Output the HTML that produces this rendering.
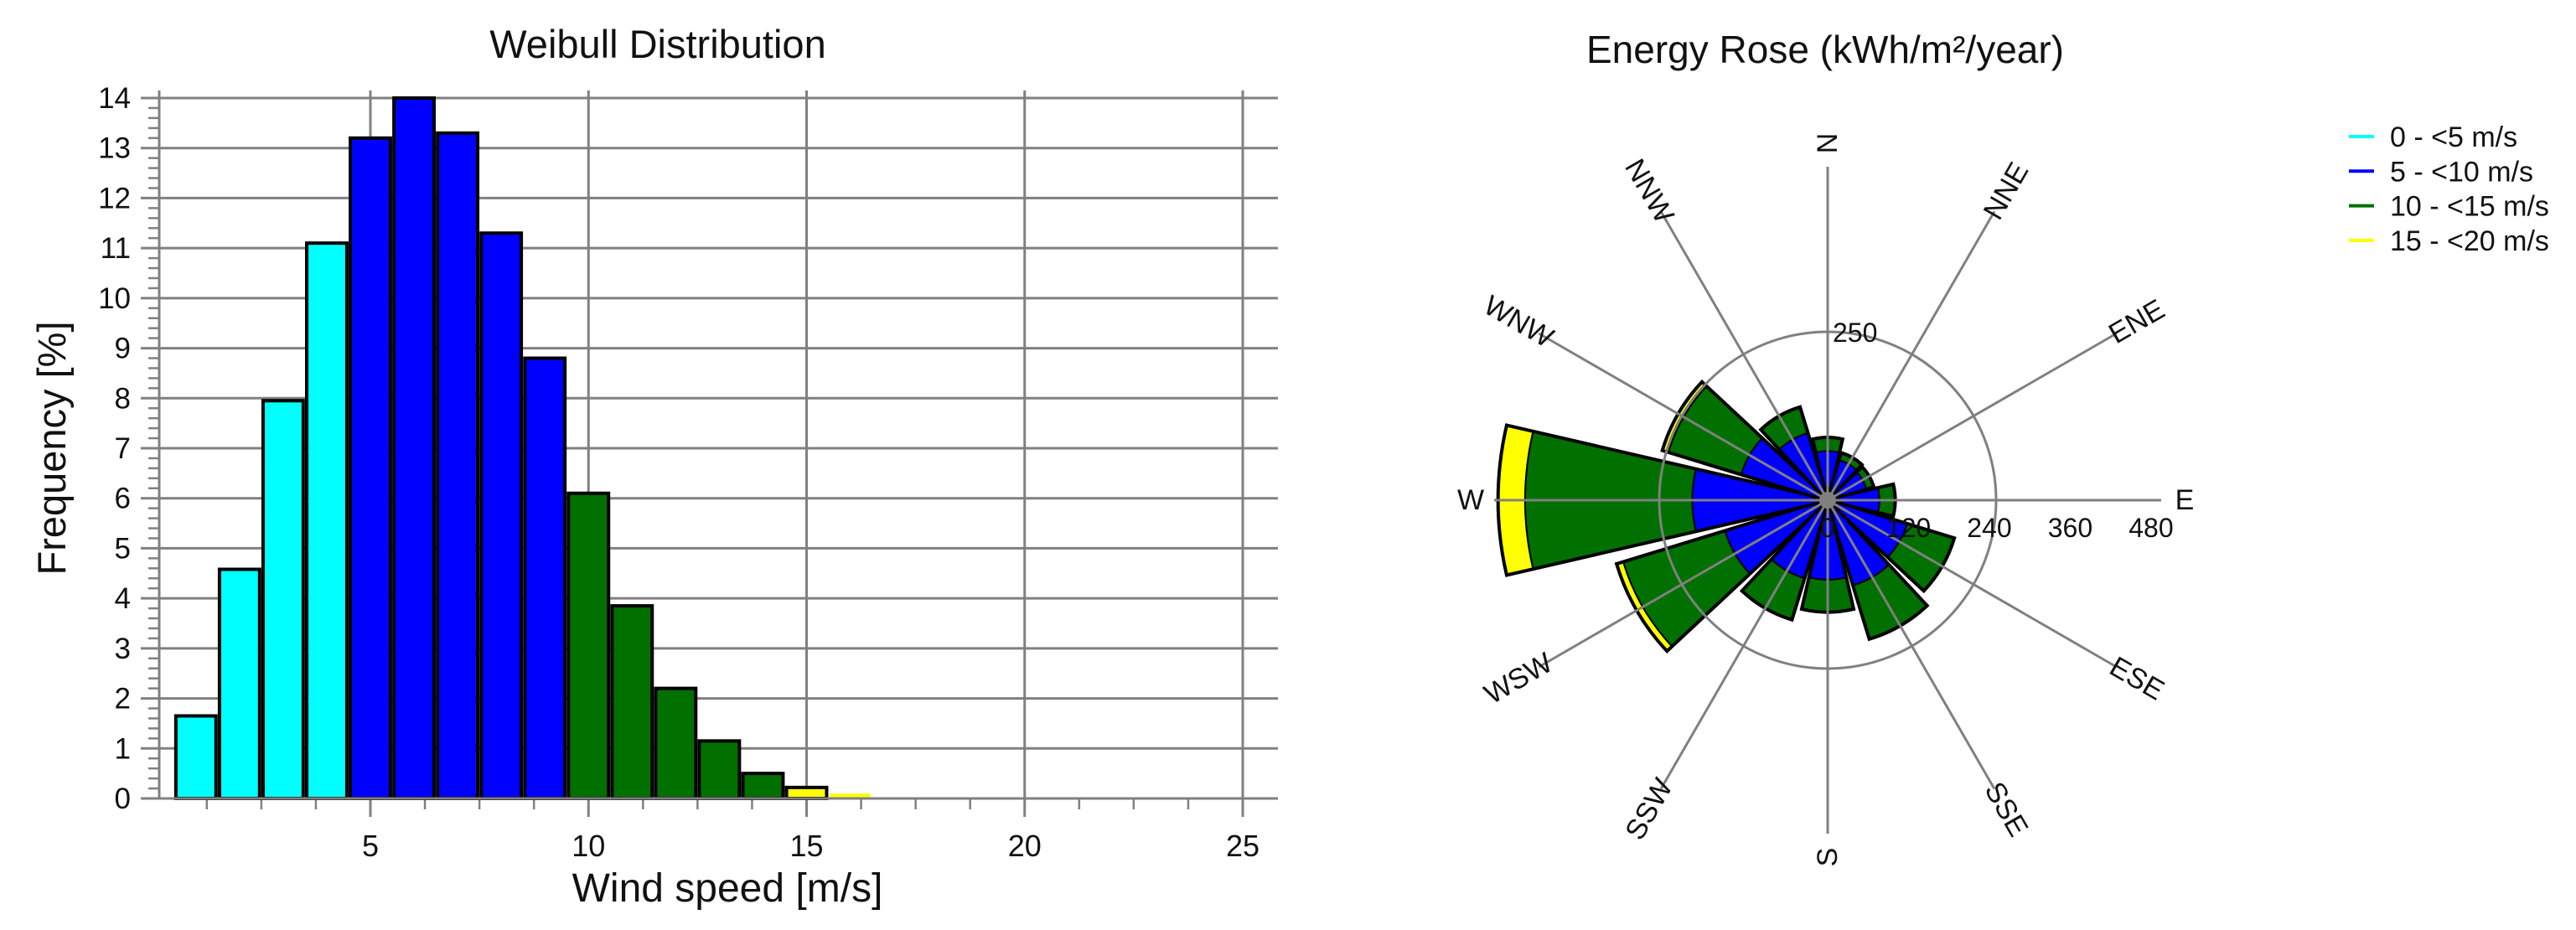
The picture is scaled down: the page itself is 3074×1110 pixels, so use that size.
<!DOCTYPE html>
<html><head><meta charset="utf-8">
<style>
html,body{margin:0;padding:0;background:#fff;}
svg{display:block;font-family:"Liberation Sans","DejaVu Sans",sans-serif;}
</style></head>
<body>
<svg id="root" width="3074" height="1110" viewBox="0 0 3074 1110" xmlns="http://www.w3.org/2000/svg">
  <g id="weibull"></g>
  <g id="rose"></g>
  <g id="legend"></g>
</svg>
<script>
// ---- Weibull histogram data ----
const speedBins = [1,2,3,4,5,6,7,8,9,10,11,12,13,14,15,16];
const frequencies = [1.65,4.58,7.95,11.1,13.2,14.0,13.3,11.3,8.8,6.1,3.85,2.2,1.15,0.5,0.22,0.1];
const binClass = [0,0,0,0,1,1,1,1,1,2,2,2,2,2,3,3];
const yTicks = [0,1,2,3,4,5,6,7,8,9,10,11,12,13,14];
const xTicks = [5,10,15,20,25];

// ---- Energy rose data ----
const directions = ["N","NNE","ENE","E","ESE","SSE","S","SSW","WSW","W","WNW","NNW"];
const energyLow = [0,0,0,0,0,0,0,0,0,0,0,0];
const energyMid = [73,62,60,77,123,132,118,121,159,201,134,104];
const energyHigh = [19,10,10,22,72,82,47,63,158,248,113,39];
const energyTop = [0,0,0,0,0,0,0,0,9,39,8,0];
const roseRings = [250];
const roseAxisLabels = [0,120,240,360,480];
const legendLabels = ["0 - <5 m/s","5 - <10 m/s","10 - <15 m/s","15 - <20 m/s"];

const COLORS = ["#00ffff","#0000ff","#007000","#ffff00"];
const NS = "http://www.w3.org/2000/svg";
function mk(parent, tag, attrs, text){
  const e = document.createElementNS(NS, tag);
  for (const k in attrs) e.setAttribute(k, attrs[k]);
  if (text !== undefined) e.textContent = text;
  parent.appendChild(e);
  return e;
}

// ================= Weibull =================
const W = document.getElementById('weibull');
const X0 = 442, XU = 52.05;
const Y0 = 953, YU = (953-117)/14;
const xs = v => X0 + (v-5)*XU;
const ys = v => Y0 - v*YU;
const plotL = 190, plotR = 1525;
const GRID = "#808080";

let t = mk(W,'text',{x:785,y:69,'font-size':47,'text-anchor':'middle',fill:'#111'},'Weibull Distribution');



yTicks.forEach(v=>{
  const l = mk(W,'line',{x1:168,x2:plotR,y1:ys(v),y2:ys(v),stroke:GRID,'stroke-width':3});
  
  
  const lb = mk(W,'text',{x:156,y:ys(v)+12,'font-size':35,'text-anchor':'end',fill:'#111'},String(v));
  
  
  if (v<14){
    for(let k=1;k<5;k++){
      const yy = ys(v+k*0.2);
      const m = mk(W,'line',{x1:177,x2:plotL,y1:yy,y2:yy,stroke:GRID,'stroke-width':2.5});
      
      
    }
  }
});
xTicks.forEach(v=>{
  const l = mk(W,'line',{x1:xs(v),x2:xs(v),y1:108,y2:Y0+22,stroke:GRID,'stroke-width':3});
  
  
  const lb = mk(W,'text',{x:xs(v),y:1022,'font-size':36,'text-anchor':'middle',fill:'#111'},String(v));
  
  
});
for(let v=1.25; v<25.5; v+=1.25){
  if (Math.abs(v/5-Math.round(v/5))<0.01) continue;
  const m = mk(W,'line',{x1:xs(v),x2:xs(v),y1:Y0,y2:Y0+13,stroke:GRID,'stroke-width':2.5});
  
  
}
let ax = mk(W,'line',{x1:plotL,x2:plotL,y1:108,y2:Y0,stroke:GRID,'stroke-width':3});



speedBins.forEach((b,i)=>{
  const x1 = xs(b-0.46), x2 = xs(b+0.46);
  const y = ys(frequencies[i]);
  const small = frequencies[i] < 0.15;
  const r = mk(W,'rect',{x:x1,y:y,width:x2-x1,height:Y0-y,fill:COLORS[binClass[i]],
    stroke:small?'none':'#000','stroke-width':4});
  
  
});
let bx = mk(W,'line',{x1:168,x2:plotR,y1:Y0,y2:Y0,stroke:GRID,'stroke-width':3});



t = mk(W,'text',{x:868,y:1076,'font-size':48,'text-anchor':'middle',fill:'#111'},'Wind speed [m/s]');


t = mk(W,'text',{x:0,y:0,'font-size':47,'text-anchor':'middle',fill:'#111',
  transform:'translate(78,535) rotate(-90)'},'Frequency [%]');



// ================= Energy rose =================
const R = document.getElementById('rose');
const CX = 2181, CY = 597, PXU = 0.804;
const rs = v => v*PXU;
const HALF = 13;
function pt(r, compassDeg){
  const a = (compassDeg-90)*Math.PI/180;
  return [CX + r*Math.cos(a), CY + r*Math.sin(a)];
}
function wedge(r0, r1, c){
  const a0 = c-HALF, a1 = c+HALF;
  const p1 = pt(r0,a0), p2 = pt(r1,a0), p3 = pt(r1,a1), p4 = pt(r0,a1);
  return `M${p1[0]},${p1[1]} L${p2[0]},${p2[1]} A${r1},${r1} 0 0 1 ${p3[0]},${p3[1]} L${p4[0]},${p4[1]} `+
    (r0>0 ? `A${r0},${r0} 0 0 0 ${p1[0]},${p1[1]} Z` : 'Z');
}

t = mk(R,'text',{x:2178,y:75,'font-size':46,'text-anchor':'middle',fill:'#111'},'Energy Rose (kWh/m²/year)');



directions.forEach((d,i)=>{
  const c = i*30;
  const bands = [energyLow[i],energyMid[i],energyHigh[i],energyTop[i]];
  let acc = 0;
  const total = bands.reduce((a,b)=>a+b,0);
  const o = mk(R,'path',{d:wedge(0,rs(total),c),fill:'none',stroke:'#000','stroke-width':6,'stroke-linejoin':'miter'});
  
  
  bands.forEach((v,k)=>{
    if (v<=0){ return; }
    const p = mk(R,'path',{d:wedge(rs(acc),rs(acc+v),c),fill:COLORS[k],stroke:'#000','stroke-width':2});
    
    
    acc += v;
  });
});

directions.forEach((d,i)=>{
  const c = i*30;
  const e = pt(398,c);
  const s = mk(R,'line',{x1:CX,y1:CY,x2:e[0],y2:e[1],stroke:GRID,'stroke-width':3});
  
  
  const lp = pt(426,c);
  let rot = c-90;
  if (c>180) rot -= 180;
  if (c===180) rot = -90;
  const lb = mk(R,'text',{x:0,y:0,'font-size':34,'text-anchor':'middle','dominant-baseline':'central',fill:'#111',
    transform:`translate(${lp[0]},${lp[1]}) rotate(${rot})`},d);
  
  
});

roseRings.forEach(v=>{
  const c = mk(R,'circle',{cx:CX,cy:CY,r:rs(v),fill:'none',stroke:GRID,'stroke-width':3});
  
  
  const l = mk(R,'text',{x:CX+6,y:CY-rs(v)+12,'font-size':32,fill:'#111'},String(v));
  
  
});
let dot = mk(R,'circle',{cx:CX,cy:CY,r:10,fill:GRID});



roseAxisLabels.forEach(v=>{
  const l = mk(R,'text',{x:CX+rs(v),y:CY+44,'font-size':32,'text-anchor':'middle',fill:'#111'},String(v));
  
  
});

// ================= Legend =================
const L = document.getElementById('legend');
legendLabels.forEach((s,i)=>{
  const y = 163 + i*41.3;
  const ln = mk(L,'line',{x1:2803,x2:2833,y1:y,y2:y,stroke:COLORS[i],'stroke-width':4});
  
  
  const tx = mk(L,'text',{x:2852,y:y+12,'font-size':34,fill:'#111'},s);
  
  
});
</script>
</body></html>
